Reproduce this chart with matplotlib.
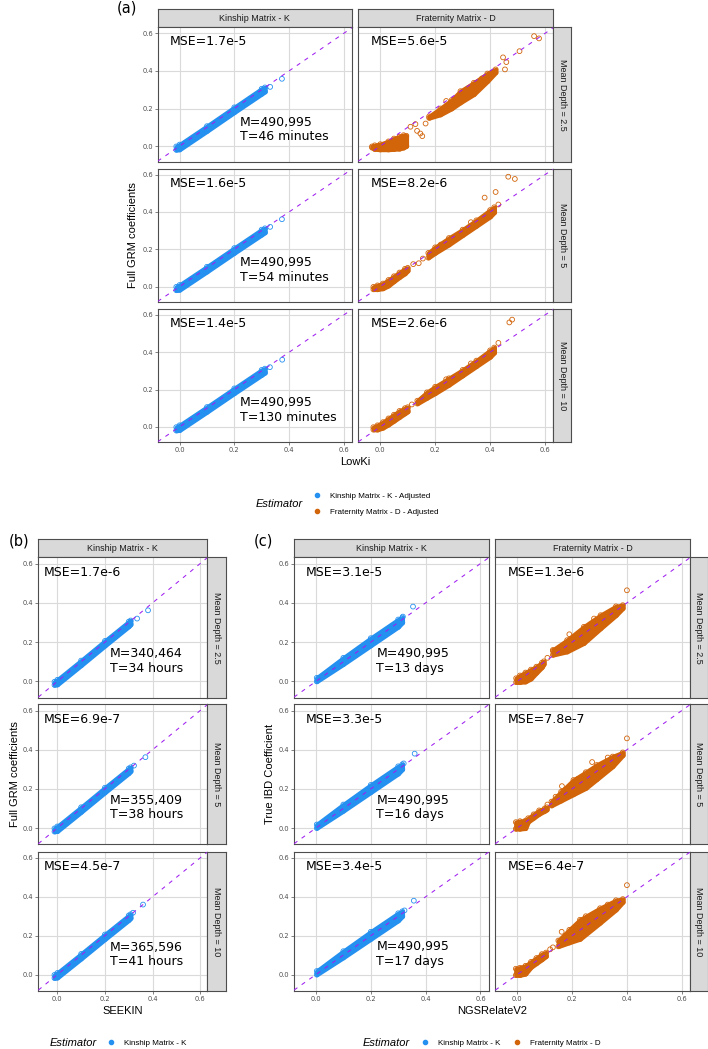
import matplotlib
matplotlib.use("Agg")
import matplotlib.pyplot as plt
from matplotlib.lines import Line2D

W, H = 708, 1049
BLUE = "#2490F0"
ORANGE = "#D2640A"
PURPLE = "#A020F0"
SANS = "Liberation Sans"
DEJA = "DejaVu Sans"

DEPTHS = ["2.5", "5", "10"]

# ---- panel (a): LowKi vs full GRM
MSE_A_K = ["1.7e-5", "1.6e-5", "1.4e-5"]
MSE_A_D = ["5.6e-5", "8.2e-6", "2.6e-6"]
M_A = ["490,995", "490,995", "490,995"]
T_A = ["46 minutes", "54 minutes", "130 minutes"]

# ---- panel (b): SEEKIN vs full GRM
MSE_B = ["1.7e-6", "6.9e-7", "4.5e-7"]
M_B = ["340,464", "355,409", "365,596"]
T_B = ["34 hours", "38 hours", "41 hours"]

# ---- panel (c): NGSRelateV2 vs true IBD
MSE_C_K = ["3.1e-5", "3.3e-5", "3.4e-5"]
MSE_C_D = ["1.3e-6", "7.8e-7", "6.4e-7"]
M_C = ["490,995", "490,995", "490,995"]
T_C = ["13 days", "16 days", "17 days"]

# kinship clouds (dense band: x, lower edge, upper edge) + stray points
A_K_X = [-0.012, 0.0, 0.1, 0.2, 0.3, 0.312]
A_K_LO = [-0.02, -0.018, 0.08, 0.18, 0.278, 0.29]
A_K_HI = [-0.002, 0.008, 0.106, 0.206, 0.305, 0.312]
A_K_OUT_X = [[0.331, 0.374], [0.331, 0.374], [0.33, 0.375]]
A_K_OUT_Y = [[0.315, 0.358], [0.32, 0.361], [0.32, 0.36]]

B_K_X = [-0.012, 0.0, 0.1, 0.2, 0.3, 0.308]
B_K_LO = [-0.018, -0.016, 0.082, 0.182, 0.28, 0.29]
B_K_HI = [-0.002, 0.008, 0.106, 0.206, 0.304, 0.31]
B_K_OUT_X = [[0.335, 0.381], [0.322, 0.37], [0.318, 0.36]]
B_K_OUT_Y = [[0.32, 0.362], [0.319, 0.362], [0.318, 0.36]]

C_K_X = [0.003, 0.1, 0.2, 0.3, 0.315]
C_K_LO = [0.0, 0.088, 0.183, 0.278, 0.3]
C_K_HI = [0.018, 0.12, 0.22, 0.315, 0.325]
C_K_OUT_X = [[0.317, 0.354], [0.32, 0.36], [0.323, 0.357]]
C_K_OUT_Y = [[0.33, 0.381], [0.33, 0.38], [0.33, 0.38]]

# fraternity clouds: low cluster, main band, stray points
A_D_LOW_X = [[-0.03, -0.02, 0.0, 0.03, 0.05, 0.07, 0.085, 0.095],
             [-0.025, -0.01, 0.01, 0.03, 0.05, 0.07, 0.09, 0.1],
             [-0.025, -0.01, 0.01, 0.03, 0.05, 0.07, 0.09, 0.1]]
A_D_LOW_LO = [[-0.008, -0.016, -0.018, -0.018, -0.016, -0.014, -0.008, 0.0],
              [-0.015, -0.015, -0.01, 0.005, 0.028, 0.05, 0.07, 0.085],
              [-0.015, -0.015, -0.005, 0.012, 0.032, 0.052, 0.072, 0.082]]
A_D_LOW_HI = [[-0.002, 0.004, 0.01, 0.025, 0.04, 0.05, 0.058, 0.055],
              [-0.002, 0.006, 0.016, 0.035, 0.055, 0.075, 0.095, 0.1],
              [-0.002, 0.008, 0.025, 0.045, 0.065, 0.085, 0.1, 0.105]]
A_D_MAIN_X = [[0.178, 0.219, 0.26, 0.292, 0.341, 0.39, 0.42],
              [0.175, 0.2, 0.25, 0.3, 0.35, 0.4, 0.415],
              [0.135, 0.17, 0.2, 0.25, 0.3, 0.35, 0.4, 0.415]]
A_D_MAIN_LO = [[0.15, 0.168, 0.2, 0.232, 0.276, 0.345, 0.392],
               [0.155, 0.18, 0.225, 0.275, 0.325, 0.375, 0.398],
               [0.125, 0.155, 0.18, 0.225, 0.275, 0.325, 0.375, 0.398]]
A_D_MAIN_HI = [[0.158, 0.2, 0.245, 0.292, 0.337, 0.386, 0.408],
               [0.18, 0.21, 0.26, 0.305, 0.355, 0.41, 0.425],
               [0.14, 0.185, 0.215, 0.26, 0.305, 0.355, 0.41, 0.425]]
A_D_PTS_X = [[0.11, 0.128, 0.134, 0.146, 0.153, 0.165, 0.447, 0.459, 0.454, 0.507, 0.56, 0.578,
              0.24, 0.31, 0.37],
             [0.12, 0.14, 0.155, 0.38, 0.42, 0.466, 0.49, 0.43, 0.22, 0.33],
             [0.115, 0.43, 0.47, 0.48, 0.24, 0.33]]
A_D_PTS_Y = [[0.103, 0.117, 0.081, 0.067, 0.053, 0.12, 0.472, 0.447, 0.408, 0.505, 0.585, 0.573,
              0.24, 0.27, 0.36],
             [0.12, 0.125, 0.15, 0.477, 0.507, 0.589, 0.577, 0.44, 0.225, 0.345],
             [0.12, 0.45, 0.56, 0.575, 0.255, 0.34]]

C_D_LOW_X = [[-0.004, 0.01, 0.03, 0.05, 0.07, 0.09, 0.097],
             [-0.005, 0.01, 0.03, 0.04, 0.06, 0.08, 0.1, 0.108],
             [-0.005, 0.01, 0.03, 0.05, 0.07, 0.09, 0.105]]
C_D_LOW_LO = [[-0.004, -0.004, -0.001, 0.014, 0.044, 0.072, 0.088],
              [-0.004, -0.004, -0.001, 0.032, 0.052, 0.072, 0.087, 0.094],
              [-0.003, -0.003, 0.004, 0.038, 0.058, 0.078, 0.094]]
C_D_LOW_HI = [[0.016, 0.03, 0.045, 0.06, 0.075, 0.095, 0.102],
              [0.03, 0.035, 0.038, 0.05, 0.07, 0.09, 0.1, 0.106],
              [0.03, 0.035, 0.045, 0.065, 0.085, 0.105, 0.113]]
C_D_MAIN_X = [[0.13, 0.182, 0.243, 0.304, 0.36, 0.385],
              [0.125, 0.16, 0.205, 0.25, 0.29, 0.348, 0.385],
              [0.15, 0.19, 0.229, 0.302, 0.36, 0.385]]
C_D_MAIN_LO = [[0.135, 0.152, 0.195, 0.27, 0.337, 0.373],
               [0.115, 0.14, 0.172, 0.204, 0.249, 0.315, 0.372],
               [0.145, 0.165, 0.183, 0.266, 0.334, 0.373]]
C_D_MAIN_HI = [[0.16, 0.21, 0.278, 0.337, 0.382, 0.388],
               [0.135, 0.185, 0.245, 0.285, 0.322, 0.365, 0.386],
               [0.175, 0.23, 0.282, 0.341, 0.382, 0.388]]
C_D_PTS_X = [[0.40, 0.11, 0.13, 0.155, 0.19, 0.28, 0.35],
             [0.40, 0.163, 0.273, 0.14, 0.11, 0.22, 0.33],
             [0.40, 0.162, 0.13, 0.12, 0.25, 0.33]]
C_D_PTS_Y = [[0.464, 0.12, 0.155, 0.16, 0.24, 0.32, 0.36],
             [0.458, 0.214, 0.337, 0.16, 0.12, 0.25, 0.36],
             [0.46, 0.22, 0.14, 0.13, 0.3, 0.36]]

XLIM = (-0.08, 0.63)
YLIM = (-0.083, 0.632)
TICKS = [0.0, 0.2, 0.4, 0.6]
TICK_LABELS = ["0.0", "0.2", "0.4", "0.6"]

fig = plt.figure(figsize=(W / 100, H / 100), dpi=100)


def box(l, t, r, b):
    return fig.add_axes([l / W, 1 - b / H, (r - l) / W, (b - t) / H])


def strip(l, t, r, b, text, rot=0):
    s = box(l, t, r, b)
    s.set_facecolor("#D9D9D9")
    s.set_xticks([])
    s.set_yticks([])
    for sp in s.spines.values():
        sp.set_color("#4D4D4D")
        sp.set_linewidth(0.8)
    s.text(0.5, 0.5, text, ha="center", va="center", rotation=rot,
           fontsize=6.5, family=SANS, color="#1A1A1A", transform=s.transAxes)


def rings(ax, xs, ys, color):
    ax.scatter(xs, ys, s=12, facecolors="none", edgecolors=color, linewidths=0.6, zorder=3)


def band(ax, xs, lo, hi, color):
    ax.fill_between(xs, lo, hi, color=color, lw=3.2, joinstyle="round",
                    capstyle="round", zorder=2)
    rings(ax, xs, lo, color)
    rings(ax, xs, hi, color)


def panel(l, t, r, b, left, bottom):
    ax = box(l, t, r, b)
    ax.set_xlim(*XLIM)
    ax.set_ylim(*YLIM)
    ax.set_xticks(TICKS)
    ax.set_yticks(TICKS)
    ax.set_xticklabels(TICK_LABELS)
    ax.set_yticklabels(TICK_LABELS)
    ax.grid(True, color="#DADADA", lw=0.8)
    ax.set_axisbelow(True)
    for sp in ax.spines.values():
        sp.set_color("#4D4D4D")
        sp.set_linewidth(0.8)
    ax.tick_params(length=2, width=0.5, color="#4D4D4D", labelsize=4.8,
                   labelcolor="#4D4D4D", pad=1.5,
                   left=left, labelleft=left, bottom=bottom, labelbottom=bottom)
    ax.axline((0, 0), slope=1, color=PURPLE, lw=0.75, ls=(0, (4, 5)), zorder=4)
    return ax


def annotate(ax, mse, m, t, ty):
    ax.text(0.105, 0.555, "MSE=" + mse, ha="center", va="center", fontsize=9,
            family=DEJA, zorder=5)
    if m is not None:
        ax.text(0.22, ty, "M=" + m + "\nT=" + t, ha="left", va="center",
                fontsize=9, family=DEJA, linespacing=1.15, zorder=5)


# ================= (a)
A_ROWS = [(27.3, 161.7), (168.7, 302.0), (309.0, 442.3)]
A_COLS = [(157.7, 352.0), (358.3, 553.3)]
strip(A_COLS[0][0], 9.3, A_COLS[0][1], 27.3, "Kinship Matrix - K")
strip(A_COLS[1][0], 9.3, A_COLS[1][1], 27.3, "Fraternity Matrix - D")
for i, (t, b) in enumerate(A_ROWS):
    last = i == 2
    ax = panel(A_COLS[0][0], t, A_COLS[0][1], b, True, last)
    band(ax, A_K_X, A_K_LO, A_K_HI, BLUE)
    rings(ax, A_K_OUT_X[i], A_K_OUT_Y[i], BLUE)
    annotate(ax, MSE_A_K[i], M_A[i], T_A[i], 0.089)
    ax = panel(A_COLS[1][0], t, A_COLS[1][1], b, False, last)
    band(ax, A_D_LOW_X[i], A_D_LOW_LO[i], A_D_LOW_HI[i], ORANGE)
    band(ax, A_D_MAIN_X[i], A_D_MAIN_LO[i], A_D_MAIN_HI[i], ORANGE)
    rings(ax, A_D_PTS_X[i], A_D_PTS_Y[i], ORANGE)
    annotate(ax, MSE_A_D[i], None, None, 0)
    strip(553.3, t, 571.3, b, "Mean Depth = " + DEPTHS[i], rot=270)

fig.text(127 / W, 1 - 8 / H, "(a)", fontsize=10.5, family=DEJA, ha="center", va="center")
fig.text(355.5 / W, 1 - 462 / H, "LowKi", fontsize=8, family=SANS, ha="center", va="center")
fig.text(133 / W, 1 - 235 / H, "Full GRM coefficients", fontsize=8, family=SANS,
         ha="center", va="center", rotation=90)

# ================= (b) and (c)
BC_ROWS = [(557.3, 697.7), (704.3, 844.3), (851.7, 990.7)]
B_COL = (38.3, 207.3)
C_COLS = [(294.0, 488.7), (495.3, 690.0)]
strip(B_COL[0], 539.0, B_COL[1], 557.3, "Kinship Matrix - K")
strip(C_COLS[0][0], 539.0, C_COLS[0][1], 557.3, "Kinship Matrix - K")
strip(C_COLS[1][0], 539.0, C_COLS[1][1], 557.3, "Fraternity Matrix - D")
for i, (t, b) in enumerate(BC_ROWS):
    last = i == 2
    ax = panel(B_COL[0], t, B_COL[1], b, True, last)
    band(ax, B_K_X, B_K_LO, B_K_HI, BLUE)
    rings(ax, B_K_OUT_X[i], B_K_OUT_Y[i], BLUE)
    annotate(ax, MSE_B[i], M_B[i], T_B[i], 0.104)
    strip(207.3, t, 226.0, b, "Mean Depth = " + DEPTHS[i], rot=270)

    ax = panel(C_COLS[0][0], t, C_COLS[0][1], b, True, last)
    band(ax, C_K_X, C_K_LO, C_K_HI, BLUE)
    rings(ax, C_K_OUT_X[i], C_K_OUT_Y[i], BLUE)
    annotate(ax, MSE_C_K[i], M_C[i], T_C[i], 0.105)
    ax = panel(C_COLS[1][0], t, C_COLS[1][1], b, False, last)
    band(ax, C_D_LOW_X[i], C_D_LOW_LO[i], C_D_LOW_HI[i], ORANGE)
    band(ax, C_D_MAIN_X[i], C_D_MAIN_LO[i], C_D_MAIN_HI[i], ORANGE)
    rings(ax, C_D_PTS_X[i], C_D_PTS_Y[i], ORANGE)
    annotate(ax, MSE_C_D[i], None, None, 0)
    strip(690.0, t, 707.5, b, "Mean Depth = " + DEPTHS[i], rot=270)

fig.text(9 / W, 1 - 541 / H, "(b)", fontsize=10.5, family=DEJA, ha="left", va="center")
fig.text(254 / W, 1 - 541 / H, "(c)", fontsize=10.5, family=DEJA, ha="left", va="center")
fig.text(122.8 / W, 1 - 1010.7 / H, "SEEKIN", fontsize=8, family=SANS, ha="center", va="center")
fig.text(492 / W, 1 - 1010.7 / H, "NGSRelateV2", fontsize=8, family=SANS, ha="center", va="center")
fig.text(15 / W, 1 - 774 / H, "Full GRM coefficients", fontsize=8, family=SANS,
         ha="center", va="center", rotation=90)
fig.text(270 / W, 1 - 774 / H, "True IBD Coefficient", fontsize=8, family=SANS,
         ha="center", va="center", rotation=90)

# ================= legends
def key(color):
    return Line2D([], [], marker="o", ls="none", color=color, markersize=3)


leg_kw = dict(frameon=False, prop={"family": SANS, "size": 5.8}, handlelength=1.0,
              handletextpad=1.1, borderpad=0, borderaxespad=0)
fig.text(279 / W, 1 - 504 / H, "Estimator", fontsize=8, family=SANS, style="italic",
         ha="center", va="center")
fig.legend([key(BLUE), key(ORANGE)],
           ["Kinship Matrix - K - Adjusted", "Fraternity Matrix - D - Adjusted"],
           loc="center left", bbox_to_anchor=(313 / W, 1 - 504 / H),
           labelspacing=1.1, **leg_kw)

fig.text(73 / W, 1 - 1043 / H, "Estimator", fontsize=8, family=SANS, style="italic",
         ha="center", va="center")
fig.legend([key(BLUE)], ["Kinship Matrix - K"], loc="center left",
           bbox_to_anchor=(107 / W, 1 - 1043 / H), **leg_kw)

fig.text(386.7 / W, 1 - 1043 / H, "Estimator", fontsize=8, family=SANS, style="italic",
         ha="center", va="center")
fig.legend([key(BLUE), key(ORANGE)], ["Kinship Matrix - K", "Fraternity Matrix - D"],
           loc="center left", bbox_to_anchor=(421 / W, 1 - 1043 / H), ncol=2,
           columnspacing=1.6, **leg_kw)

fig.savefig("out.png", dpi=100)
